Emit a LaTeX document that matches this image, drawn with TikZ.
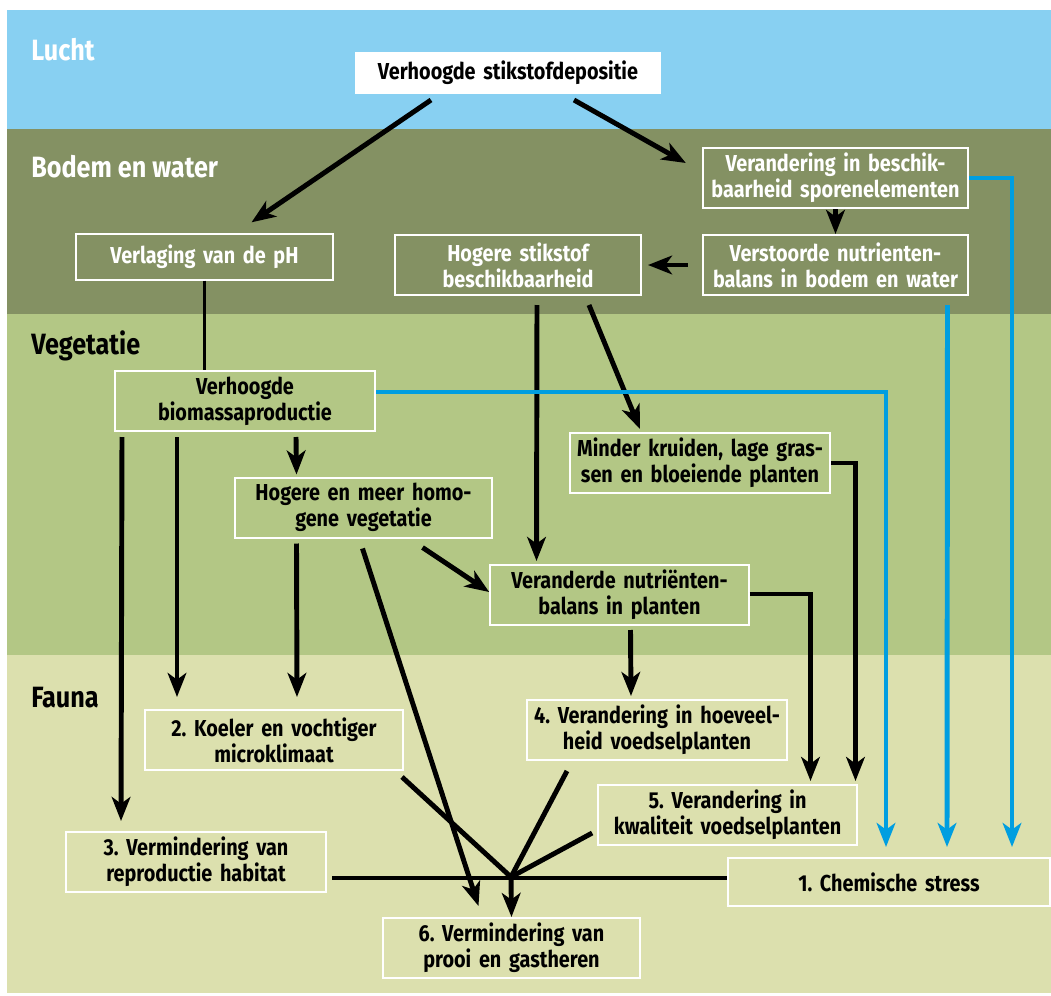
\documentclass[tikz,border=0pt]{standalone}
\usepackage{fontspec}
\setmainfont{Fira Sans}[FakeStretch=0.86]
\usetikzlibrary{arrows.meta, calc}
\definecolor{lucht}{HTML}{88D0F2}
\definecolor{bodem}{HTML}{849163}
\definecolor{vegetatie}{HTML}{B3C785}
\definecolor{fauna}{HTML}{DCE0AE}
\definecolor{blauw}{HTML}{009EE0}
\frenchspacing
\tikzstyle{vak} = [rectangle, draw=white, line width=1.5pt, inner sep=0pt, minimum height=45pt, text width=193pt, align=center, font=\fontsize{17.3}{19.5}\selectfont\bfseries]
\tikzstyle{kop} = [anchor=west, inner sep=0pt, font=\fontsize{22}{24}\selectfont\bfseries]
\tikzstyle{pijl} = [line width=3.7pt, -{Stealth[length=18pt, width=14pt, inset=5pt]}]
\tikzstyle{blauwpijl} = [pijl, draw=blauw, {-Stealth[length=18pt, width=14pt, inset=5pt, blauw]}]
\tikzstyle{lijn} = [line width=3.7pt]
\tikzstyle{dun} = [line width=1.6pt]

\begin{document}
\begin{tikzpicture}[x=0.75pt, y=-0.75pt]
\useasboundingbox (0,0) rectangle (1051,996);

% lagen
\fill [lucht] (7,10) rectangle (1051,129);
\fill [bodem] (7,129) rectangle (1051,314);
\fill [vegetatie] (7,314) rectangle (1051,655);
\fill [fauna] (7,655) rectangle (1051,993);

\node (klucht) [kop, text=white] at (31,50) {Lucht};
\node (kbodem) [kop, text=white] at (31,167) {Bodem en water};
\node (kveg) [kop] at (31,346) {Vegetatie};
\node (kfauna) [kop] at (31,698) {Fauna};

% bodem en water
\node (depositie) [vak, fill=white, draw=none, text width=229.5pt, minimum height=31.5pt] at (508,73) {Verhoogde stikstofdepositie};
\node (beschik) [vak, text=white, text width=199pt] at (835.5,178) {Verandering in beschik-\\baarheid sporenelementen};
\node (verstoord) [vak, text=white, text width=199pt] at (835.5,265) {Verstoorde nutrienten-\\balans in bodem en water};
\node (stikstof) [vak, text=white, text width=184.5pt] at (518,265) {Hogere stikstof\\beschikbaarheid};
\node (ph) [vak, text=white, minimum height=34pt] at (204.5,257) {Verlaging van de pH};

% vegetatie
\node (biomassa) [vak, text width=195pt] at (245,401) {Verhoogde\\biomassaproductie};
\node (kruiden) [vak, text width=195pt] at (700,463) {Minder kruiden, lage gras-\\sen en bloeiende planten};
\node (homogeen) [vak] at (363.5,507.5) {Hogere en meer homo-\\gene vegetatie};
\node (planten) [vak, text width=194pt] at (619.5,595) {Veranderde nutriënten-\\balans in planten};

% fauna
\node (koeler) [vak] at (274,740) {2. Koeler en vochtiger\\microklimaat};
\node (hoeveel) [vak, text width=195pt] at (657,730) {4. Verandering in hoeveel-\\heid voedselplanten};
\node (kwaliteit) [vak, text width=194pt] at (727.5,815) {5. Verandering in\\kwaliteit voedselplanten};
\node (habitat) [vak, text width=195pt] at (196,862) {3. Vermindering van\\reproductie habitat};
\node (stress) [vak, text width=241.5pt, minimum height=36pt] at (889,882) {1. Chemische stress};
\node (prooi) [vak] at (511.5,948) {6. Vermindering van\\prooi en gastheren};

\coordinate (knoop) at (511,877);

\draw [pijl] ($(depositie.south)+(-77,5)$) -- ($(ph.north)+(47,-11)$);
\draw [pijl] ($(depositie.south)+(66,5)$) -- ($(beschik.west)+(-16,-15)$);
\draw [pijl] (beschik.south) -- (verstoord.north);
\draw [pijl] ($(verstoord.west)+(-14,0)$) -- ($(stikstof.east)+(6,0)$);
\draw [dun] (ph.south) -- (ph.south |- biomassa.north);
\draw [pijl] ($(stikstof.south)+(19,9)$) -- ($(planten.north)+(-83,-3)$);
\draw [pijl] ($(stikstof.south)+(71,9)$) -- ($(kruiden.north)+(-60,-3)$);

\draw [pijl] ($(biomassa.south)+(51,5)$) -- ($(homogeen.north)+(-67,-2)$);
\draw [pijl] ($(biomassa.south)+(-123,5)$) -- ($(habitat.north)+(-75,-10)$);
\draw [pijl] ($(biomassa.south)+(-68,5)$) -- ($(koeler.north)+(-97,-12)$);
\draw [pijl] ($(homogeen.south)+(-67,5)$) -- ($(koeler.north)+(23,-12)$);
\draw [pijl] ($(homogeen.south)+(59,9)$) -- ($(planten.west)+(0,-3)$);
\draw [pijl] ($(homogeen.south)+(-1,10)$) -- ($(prooi.north)+(-33,-11)$);
\draw [pijl] ($(planten.south)+(11,4)$) -- ($(hoeveel.north)+(-26,-3)$);
\draw [pijl] ($(planten.east)+(0,-1)$) -| ($(kwaliteit.north)+(83,-3)$);
\draw [pijl] (kruiden.east) -| ($(kwaliteit.north)+(128,-3)$);

\draw [blauwpijl] ($(biomassa.east)+(0,-9)$) -| ($(stress.north)+(-3,-10)$);
\draw [blauwpijl] ($(verstoord.south)+(112,9)$) -- ($(stress.north)+(58,-10)$);
\draw [blauwpijl] (beschik.east) -| ($(stress.north)+(123,-10)$);

\draw [lijn] ($(koeler.south)+(128,6)$) -- (knoop);
\draw [lijn] ($(hoeveel.south)+(-90,10)$) -- (knoop);
\draw [lijn] ($(kwaliteit.west)+(-5,18)$) -- (knoop);
\draw [lijn] ($(habitat.east)+(5,16)$) -- ($(stress.west)+(0,-4)$);
\draw [pijl] (knoop) -- (prooi.north);

\end{tikzpicture}
\end{document}
